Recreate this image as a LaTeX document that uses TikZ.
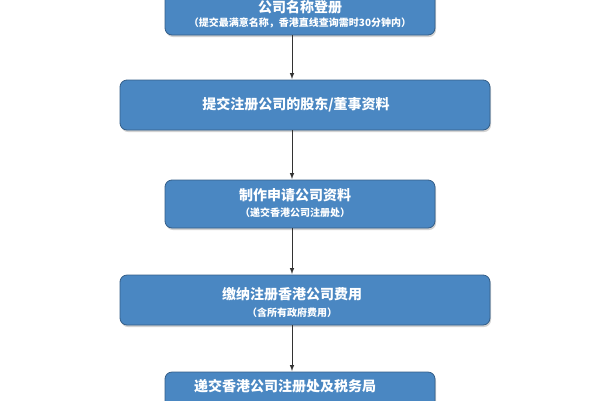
\documentclass[tikz,border=0pt]{standalone}
\usepackage{fontspec}
\setmainfont{Noto Sans CJK SC}
\usetikzlibrary{shadows}
\definecolor{boxblue}{HTML}{4A87C2}
\begin{document}
\begin{tikzpicture}[x=1pt,y=-1pt,
  box/.style={draw=boxblue!70!black,line width=0.8pt,fill=boxblue,rounded corners=7pt,drop shadow={opacity=0.35,shadow xshift=1pt,shadow yshift=-2pt}},
  tl/.style={text=white,font=\bfseries\fontsize{14}{16}\selectfont},
  ts/.style={text=white,font=\bfseries\fontsize{10}{12}\selectfont},
  arr/.style={-latex,line width=1pt,draw=black!80}]
\useasboundingbox (0,0) rectangle (600,400);
\clip (0,0) rectangle (600,400);
\fill[white] (0,0) rectangle (600,400);
\draw[box] (165,-12) rectangle (435,35);
\node[tl] (t1) at (300,7) {公司名称登册};
\node[ts] (s1) at (300,23) {（提交最满意名称，香港直线查询需时30分钟内）};
\draw[box] (120,80) rectangle (490,130);
\node[tl] (t2) at (296,105) {提交注册公司的股东/董事资料};
\draw[box] (165,180) rectangle (435,228);
\node[tl] (t3) at (295,195) {制作申请公司资料};
\node[ts] (s3) at (295,213) {（递交香港公司注册处）};
\draw[box] (120,275) rectangle (490,325);
\node[tl] (t4) at (292,294) {缴纳注册香港公司费用};
\node[ts] (s4) at (292,313) {（含所有政府费用）};
\draw[box] (165,372) rectangle (435,420);
\node[tl] (t5) at (285,386) {递交香港公司注册处及税务局};
\coordinate (a1) at (292,35); \coordinate (b1) at (292,79);
\coordinate (a2) at (292,130); \coordinate (b2) at (292,179);
\coordinate (a3) at (292,228); \coordinate (b3) at (292,274);
\coordinate (a4) at (292,325); \coordinate (b4) at (292,371);
\draw[arr] (a1) -- (b1);
\draw[arr] (a2) -- (b2);
\draw[arr] (a3) -- (b3);
\draw[arr] (a4) -- (b4);
\end{tikzpicture}
\end{document}
